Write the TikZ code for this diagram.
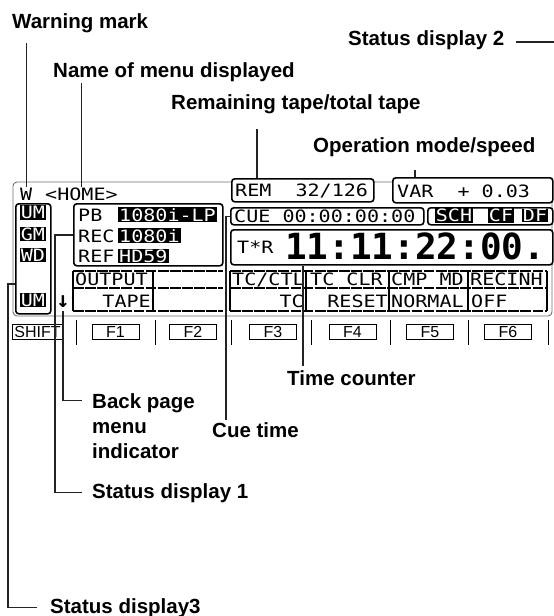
\documentclass[tikz,border=0pt]{standalone}
\usepackage{fontspec}
\usepackage{tikz}
\usetikzlibrary{positioning,calc}
\newfontfamily\tagsans{Liberation Sans}
\newfontfamily\lcdface[FakeStretch=1.18]{DejaVu Sans Mono}
\newfontfamily\countface{DejaVu Sans Mono}
\newcommand\tagfont{\tagsans\bfseries\fontsize{20.5}{25}\selectfont}
\newcommand\fkeyfont{\tagsans\fontsize{16}{18}\selectfont}
\newcommand\lcdfont{\lcdface\fontsize{17}{20}\selectfont}
\newcommand\countfont{\countface\bfseries\fontsize{36}{40}\selectfont}
\newcommand\arrowfont{\countface\bfseries\fontsize{22}{24}\selectfont}
\definecolor{leadgray}{RGB}{35,35,35}
\definecolor{framegray}{RGB}{110,110,110}
\tikzset{
  tag/.style={font=\tagfont, anchor=base west, inner sep=0pt, align=left},
  lead/.style={line width=1.4pt, draw=leadgray},
  frame/.style={draw=framegray, line width=0.9pt, rounded corners=4pt},
  lcdbox/.style={draw, fill=white, line width=1.6pt, rounded corners=3pt,
                 anchor=north west, inner sep=0pt},
  lcdtext/.style={font=\lcdfont, anchor=base west, inner sep=0pt},
  badge/.style={lcdtext, fill=black, text=white, inner xsep=1pt, inner ysep=0.8pt},
  cell/.style={line width=1.1pt},
  cellrow/.style={cell, dash pattern=on 10.8pt off 1.3pt},
  fkey/.style={draw, line width=0.8pt, minimum width=47pt, minimum height=15pt,
               inner sep=0pt, font=\fkeyfont},
  keysep/.style={line width=0.8pt},
}

\begin{document}
\begin{tikzpicture}[x=1pt,y=-1pt]
\useasboundingbox (0,0) rectangle (554,616);

% ---------------- the display panel ----------------
\draw[frame] (13,182) rectangle (552,316);

\node[lcdtext] (wmark) at (20,200) {W};
\node[lcdtext] (menuname) at (45,200) {<HOME>};

\node[lcdbox, minimum width=142pt, minimum height=23pt] (rembox) at (231,178) {};
\node[lcdtext] (remtxt) at (235,196) {REM~~32/126};
\node[lcdbox, minimum width=160pt, minimum height=25pt] (varbox) at (392,177) {};
\node[lcdtext] (vartxt) at (397,197) {VAR~~+~0.03};

% status display 3: the column of marks at the left
\node[lcdbox, minimum width=35pt, minimum height=110pt] (s3box) at (15,203) {};
\node[badge, anchor=center] (umtop) at (33,212.5) {UM};
\node[badge, anchor=center] (gm) at (33,234) {GM};
\node[badge, anchor=center] (wd) at (33,255) {WD};
\node[badge, anchor=center] (umlow) at (33,300) {UM};

% status display 1: signal formats
\node[lcdbox, minimum width=149pt, minimum height=62pt] (s1box) at (73,203) {};
\node[lcdtext] (pb) at (78,221) {PB};
\node[badge] (pbfmt) at (118,221) {1080i-LP};
\node[lcdtext] (rec) at (78,242) {REC};
\node[badge] (recfmt) at (118,242) {1080i};
\node[lcdtext] (ref) at (78,262) {REF};
\node[badge] (reffmt) at (118,262) {HD59};

% cue, status display 2 and the time counter
\node[lcdbox, minimum width=193pt, minimum height=17pt] (cuebox) at (230,207) {};
\node[lcdtext] (cuetxt) at (234,222) {CUE 00:00:00:00};
\node[lcdbox, minimum width=125pt, minimum height=17pt] (schbox) at (427,207) {};
\node[badge, anchor=center] (sch) at (454,215.5) {SCH};
\node[badge, anchor=center] (cf) at (501,215.5) {CF};
\node[badge, anchor=center] (df) at (535,215.5) {DF};
\node[lcdbox, minimum width=322pt, minimum height=35pt] (timerbox) at (230,229) {};
\node[lcdtext] (trmode) at (237,253) {T*R};
\node[lcdtext, font=\countfont] (count) at (285,259) {11:11:22:00.};

% menu table
\foreach \y in {271,288,311} {
  \draw[cellrow] (73,\y) -- (223,\y);
  \draw[cellrow] (230,\y) -- (547,\y);
}
\foreach \x in {73,153,230,306,389,468,547}
  \draw[cell] (\x,271) -- (\x,311);
\node[lcdtext] (outhead) at (75,285) {OUTPUT};
\node[lcdtext, anchor=base east] (outval) at (151,307) {TAPE};
\node[lcdtext] (tchead) at (232,285) {TC/CTL};
\node[lcdtext, anchor=base east] (tcval) at (304,307) {TC};
\node[lcdtext] (clrhead) at (310,285) {TC CLR};
\node[lcdtext, anchor=base east] (clrval) at (388,307) {RESET};
\node[lcdtext] (cmphead) at (391,285) {CMP MD};
\node[lcdtext] (cmpval) at (391,307) {NORMAL};
\node[lcdtext] (inhhead) at (470,285) {RECINH};
\node[lcdtext] (inhval) at (471,307) {OFF};

\node[lcdtext, anchor=center, font=\arrowfont] (backarrow) at (63,302) {↓};

% function keys
\node[fkey, minimum width=51pt] (kshift) at (37.5,332) {SHIFT};
\foreach \k/\x in {1/115.5,2/193,3/273,4/352.5,5/430,6/508}
  \node[fkey] (f\k) at (\x,332) {F\k};
\foreach \x in {76,155,231,311,390,468,548}
  \draw[keysep] (\x,320) -- (\x,345);

% ---------------- labels and leaders ----------------
\node[tag] (warnlbl) at (12,28) {Warning mark};
\node[tag] (menulbl) at (53,77) {Name of menu displayed};
\node[tag] (s2lbl) at (348,45) {Status display 2};
\node[tag] (remlbl) at (171,109) {Remaining tape/total tape};
\node[tag] (opslbl) at (313,152) {Operation mode/speed};
\node[tag] (timelbl) at (287,385) {Time counter};
\node[tag] (cuelbl) at (212,437) {Cue time};
\node[tag, anchor=north west] (backlbl) at (92,393) {Back page\\menu\\indicator};
\node[tag] (s1lbl) at (92,498) {Status display 1};
\node[tag] (s3lbl) at (50,613) {Status display3};

\draw[lead] (wmark.north) -- ([yshift=-15pt]warnlbl.base -| wmark.north);
\draw[lead] (menuname.north) -- ([yshift=-6pt]menulbl.base -| menuname.north);
\coordinate (remtap) at ([xshift=26pt]rembox.north west);
\draw[lead] (remtap) -- ([yshift=-20pt]remlbl.base -| remtap);
\coordinate (opstap) at ([xshift=23pt]varbox.north west);
\draw[lead] (opstap) -- ([yshift=-18pt]opslbl.base -| opstap);
\draw[lead] ([xshift=12pt,yshift=3pt]s2lbl.base east) -- ++(50,0) |- (schbox.east);
\coordinate (tctap) at ([xshift=16pt,yshift=4pt]timelbl.north west);
\draw[lead] (tctap) -- (tctap |- timerbox.south);
\draw[lead] (cuebox.west) -| ([xshift=14pt,yshift=2pt]cuelbl.north west);
\draw[lead] ([yshift=-3pt]backarrow.south) |- ([xshift=-10pt,yshift=-7.5pt]backlbl.north west);
\draw[lead] (s1box.west) -- ++(-18,0) |- ([xshift=-10pt]s1lbl.west);
\draw[lead] ([yshift=-25pt]s3box.west) -- ++(-7,0) |- ([xshift=-13pt]s3lbl.west);
\end{tikzpicture}
\end{document}
